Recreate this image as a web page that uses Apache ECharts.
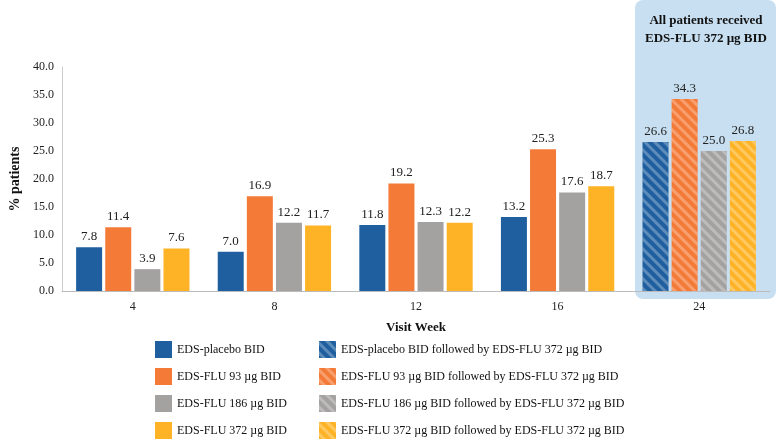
<!DOCTYPE html>
<html><head><meta charset="utf-8">
<script src="https://cdn.jsdelivr.net/npm/echarts@6/dist/echarts.min.js"></script>
<style>html,body{margin:0;padding:0;background:#fff}#c{width:780px;height:446px}</style>
</head><body><div id="c"></div>
<script>
const categories = ['4','8','12','16','24'];
const placebo = [7.8, 7.0, 11.8, 13.2, '-'];
const flu93 = [11.4, 16.9, 19.2, 25.3, '-'];
const flu186 = [3.9, 12.2, 12.3, 17.6, '-'];
const flu372 = [7.6, 11.7, 12.2, 18.7, '-'];
const placeboFollowed = ['-', '-', '-', '-', 26.6];
const flu93Followed = ['-', '-', '-', '-', 34.3];
const flu186Followed = ['-', '-', '-', '-', 25.0];
const flu372Followed = ['-', '-', '-', '-', 26.8];
const yTicks = [0, 5, 10, 15, 20, 25, 30, 35, 40];

const colors = ['#1f5f9f', '#f47a38', '#a4a1a1', '#fdb325'];
const solidNames = ['EDS-placebo BID', 'EDS-FLU 93 µg BID', 'EDS-FLU 186 µg BID', 'EDS-FLU 372 µg BID'];
const hatchNames = solidNames.map(n => n + ' followed by EDS-FLU 372 µg BID');
const solidData = [placebo, flu93, flu186, flu372];
const hatchData = [placeboFollowed, flu93Followed, flu186Followed, flu372Followed];
const FONT = '"Liberation Serif", "DejaVu Serif", serif';

const decal = {
  symbol: 'rect', dashArrayX: [1, 0], dashArrayY: [3, 4], rotation: Math.PI / 4,
  color: 'rgba(255,255,255,0.28)'
};
const label = {
  show: true, position: 'top', distance: 4, fontFamily: FONT, fontSize: 13, color: '#222',
  formatter: p => Number(p.value).toFixed(1)
};
const series = [];
for (let i = 0; i < 4; i++) {
  series.push({
    name: solidNames[i], type: 'bar', stack: 's' + i, data: solidData[i], barWidth: 26,
    barGap: '12%', itemStyle: { color: colors[i] }, label
  });
}
for (let i = 0; i < 4; i++) {
  series.push({
    name: hatchNames[i], type: 'bar', stack: 's' + i, data: hatchData[i], barWidth: 26,
    barGap: '12%', itemStyle: { color: colors[i], decal }, label
  });
}

const chart = echarts.init(document.getElementById('c'));
const legendCommon = {
  orient: 'vertical', icon: 'rect', itemWidth: 17, itemHeight: 17, itemGap: 10, height: 110,
  textStyle: { fontFamily: FONT, fontSize: 12, color: '#111' }, selectedMode: false
};
chart.setOption({
  animation: false,
  textStyle: { fontFamily: FONT },
  graphic: [{
    type: 'rect', z: -1, shape: { x: 635, y: 0, width: 141, height: 299, r: 8 },
    style: { fill: '#c7dff0' }
  }, {
    type: 'text', z: 10,
    style: {
      x: 706, y: 12, text: 'All patients received\nEDS-FLU 372 µg BID', align: 'center',
      fontFamily: FONT, fontWeight: 'bold', fontSize: 13, lineHeight: 18, fill: '#111'
    }
  }],
  grid: { left: 56, right: 10, top: 67, bottom: 155 },
  legend: [
    Object.assign({ left: 150, top: 336, data: solidNames }, legendCommon),
    Object.assign({ left: 314, top: 336, data: hatchNames }, legendCommon)
  ],
  xAxis: {
    type: 'category', data: categories, name: 'Visit Week', nameLocation: 'middle', nameGap: 30,
    nameTextStyle: { fontFamily: FONT, fontWeight: 'bold', fontSize: 13, color: '#111' },
    axisLine: { lineStyle: { color: '#bbb' } }, axisTick: { show: false },
    axisLabel: { fontFamily: FONT, fontSize: 12, color: '#222', margin: 10 }
  },
  yAxis: {
    type: 'value', min: yTicks[0], max: yTicks[yTicks.length - 1], interval: yTicks[1] - yTicks[0],
    name: '% patients', nameLocation: 'middle', nameGap: 40, nameRotate: 90,
    nameTextStyle: { fontFamily: FONT, fontWeight: 'bold', fontSize: 14, color: '#111' },
    axisLine: { show: true, lineStyle: { color: '#ccc' } }, splitLine: { show: false },
    axisLabel: { fontFamily: FONT, fontSize: 12, color: '#222', formatter: v => v.toFixed(1) }
  },
  series
});
</script></body></html>
